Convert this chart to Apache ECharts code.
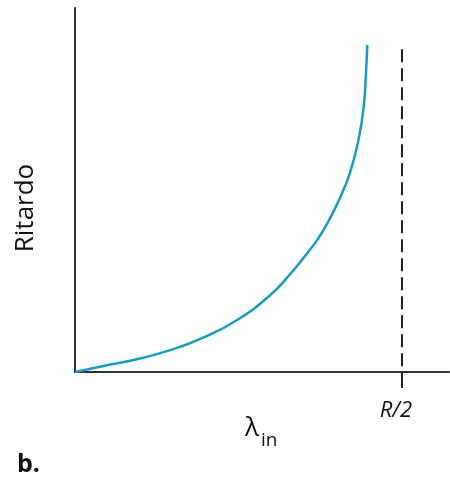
<!DOCTYPE html>
<html>
<head>
<meta charset="utf-8">
<script src="https://cdn.jsdelivr.net/npm/echarts@6/dist/echarts.min.js"></script>
<style>
html,body{margin:0;padding:0;background:#fff;}
#chart{width:450px;height:479px;}
</style>
</head>
<body>
<div id="chart"></div>
<script>
// Curve values (x in units of R/2, y arbitrary delay units)
const lambdaIn = [0, 0.087, 0.189, 0.291, 0.394, 0.496, 0.598, 0.660, 0.702, 0.741, 0.772, 0.798, 0.821, 0.841, 0.867, 0.883, 0.890, 0.894];
const delay    = [0, 0.165, 0.35, 0.60, 0.95, 1.43, 2.12, 2.71, 3.17, 3.63, 4.09, 4.54, 5.00, 5.47, 6.37, 7.28, 8.21, 8.98];
// Asymptote position and its tick label
const asymptoteX = 1;
const asymptoteTop = 8.87;
const tickLabels = ['R/2'];
const xAxisTitle = 'λ';
const xAxisSub = 'in';
const yAxisTitle = 'Ritardo';
const panelLabel = 'b.';

const FONT = '"Open Sans", "Noto Sans", sans-serif';
const chart = echarts.init(document.getElementById('chart'));
chart.setOption({
  animation: false,
  backgroundColor: '#fff',
  grid: { left: 75, right: 1, top: 8, bottom: 107 },
  xAxis: {
    type: 'value', min: 0, max: 1.144,
    splitLine: { show: false },
    axisLine: { show: true, lineStyle: { color: '#333', width: 2 } },
    axisTick: { show: true, customValues: [asymptoteX], length: 16, lineStyle: { color: '#222', width: 2 } },
    axisLabel: {
      show: true, customValues: [asymptoteX], margin: 28,
      padding: [0, 12, 0, 0],
      formatter: () => tickLabels[0],
      fontFamily: FONT, fontStyle: 'italic', fontSize: 22, color: '#111'
    }
  },
  yAxis: {
    type: 'value', min: 0, max: 10,
    splitLine: { show: false },
    axisLine: { show: true, lineStyle: { color: '#333', width: 2 } },
    axisTick: { show: false },
    axisLabel: { show: false }
  },
  series: [{
    type: 'line',
    data: lambdaIn.map((x, i) => [x, delay[i]]),
    smooth: 0.5,
    showSymbol: false,
    lineStyle: { color: '#1a9cc0', width: 2.5 },
    markLine: {
      silent: true,
      symbol: 'none',
      label: { show: false },
      lineStyle: { color: '#222', width: 2, type: [13, 6] },
      data: [[{ coord: [asymptoteX, asymptoteTop] }, { coord: [asymptoteX, 0] }]]
    }
  }],
  graphic: [
    { type: 'text', left: 245, top: 416, style: { text: xAxisTitle, font: '26px ' + FONT, fill: '#111' } },
    { type: 'text', left: 261, top: 431, style: { text: xAxisSub, font: '19px ' + FONT, fill: '#111' } },
    { type: 'text', x: 26, y: 208, rotation: Math.PI / 2,
      style: { text: yAxisTitle, font: '26px ' + FONT, fill: '#111', align: 'center', verticalAlign: 'middle' } },
    { type: 'text', left: 17, top: 452, style: { text: panelLabel, font: 'bold 25px ' + FONT, fill: '#111' } }
  ]
});
</script>
</body>
</html>
